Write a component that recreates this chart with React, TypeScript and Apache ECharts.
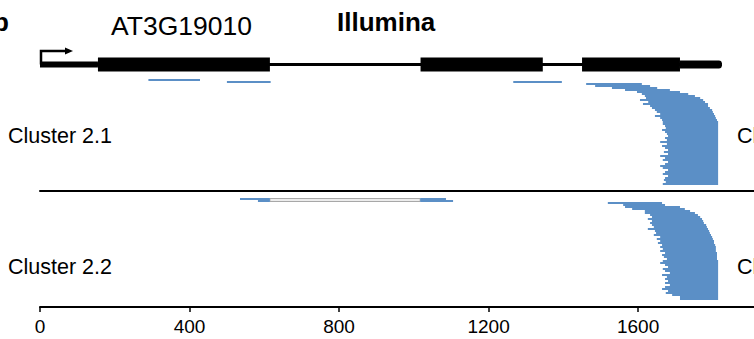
import React, { useEffect, useRef } from "react";
import * as echarts from "echarts";

// ---------- data ----------
const xTickInterval = 400;
const xMax = 1910;

const geneSpan = [0, 1824];
const utr5 = [0, 155];
const exons = [
  [155, 615],
  [1018, 1345],
  [1450, 1712],
];
const utr3 = [1712, 1824];

// Cluster 2.1 : isolated short reads [start, end, row]
const c21Short = [
  [290, 428, 0],
  [500, 617, 1],
  [1266, 1396, 1],
];
// Cluster 2.1 : stacked reads (rows 2..52)
const c21Starts = [
  1461, 1485, 1530, 1565, 1597, 1610, 1618, 1621, 1605, 1627, 1613, 1632, 1637,
  1645, 1650, 1659, 1645, 1659, 1664, 1666, 1666, 1672, 1674, 1664, 1672, 1677,
  1680, 1672, 1677, 1659, 1677, 1664, 1672, 1680, 1669, 1680, 1659, 1672, 1666,
  1680, 1672, 1659, 1666, 1680, 1672, 1666, 1680, 1672, 1669, 1674, 1666,
];
const c21Ends = [
  1610, 1632, 1651, 1685, 1712, 1734, 1752, 1766, 1774, 1779, 1787, 1787, 1792,
  1798, 1800, 1803, 1806, 1808, 1811, 1814, 1814, 1814, 1814, 1814, 1814, 1814,
  1814, 1814, 1814, 1814, 1814, 1814, 1814, 1814, 1814, 1814, 1814, 1814, 1814,
  1814, 1814, 1814, 1814, 1814, 1814, 1814, 1814, 1814, 1814, 1814, 1814,
];

// Cluster 2.2 : spliced reads blocks [start, end, row] and junction [start, end, row]
const c22Spliced = [
  [535, 615, 1],
  [1017, 1086, 1],
  [583, 615, 2],
  [1017, 1105, 2],
];
const c22Junctions = [[615, 1017, 1]];
// Cluster 2.2 : stacked reads (rows 3..51)
const c22Starts = [
  1519, 1560, 1565, 1584, 1618, 1618, 1632, 1637, 1626, 1637, 1632, 1637, 1642,
  1626, 1645, 1648, 1642, 1659, 1650, 1659, 1653, 1664, 1659, 1666, 1659, 1672,
  1664, 1669, 1677, 1666, 1659, 1672, 1680, 1666, 1672, 1685, 1664, 1677, 1672,
  1680, 1672, 1685, 1672, 1664, 1680, 1674, 1691, 1712, 1712,
];
const c22Ends = [
  1664, 1672, 1712, 1725, 1739, 1752, 1760, 1766, 1771, 1774, 1776, 1782, 1784,
  1787, 1790, 1792, 1795, 1798, 1800, 1803, 1803, 1806, 1808, 1808, 1808, 1811,
  1811, 1811, 1811, 1814, 1814, 1814, 1814, 1814, 1814, 1814, 1814, 1814, 1814,
  1814, 1814, 1814, 1814, 1814, 1814, 1814, 1814, 1814, 1814,
];

const labels = {
  panel: "b",
  gene: "AT3G19010",
  platform: "Illumina",
  cluster1: "Cluster 2.1",
  cluster2: "Cluster 2.2",
};

// ---------- styles ----------
const BLUE = "#5b8fc6";
const FONT = "'Liberation Sans', Arial, sans-serif";

const c21Data = [
  ...c21Short,
  ...c21Starts.map((s, i) => [s, c21Ends[i], i + 2]),
];
const c22Data = [
  ...c22Spliced,
  ...c22Starts.map((s, i) => [s, c22Ends[i], i + 3]),
];

const geneData = [
  [geneSpan[0], geneSpan[1], 0],
  [utr5[0], utr5[1], 1],
  ...exons.map((e) => [e[0], e[1], 2]),
  [utr3[0], utr3[1], 3],
];

const readItem = (_p: any, api: any) => {
  const a = api.coord([api.value(0), api.value(2)]);
  const b = api.coord([api.value(1), api.value(2) + 1]);
  return {
    type: "rect",
    shape: { x: a[0], y: a[1], width: b[0] - a[0], height: b[1] - a[1] },
    style: { fill: BLUE },
  };
};

const junctionItem = (_p: any, api: any) => {
  const a = api.coord([api.value(0), api.value(2) + 0.25]);
  const b = api.coord([api.value(1), api.value(2) + 1.75]);
  return {
    type: "rect",
    shape: { x: a[0], y: a[1], width: b[0] - a[0], height: b[1] - a[1] },
    style: { fill: "#ececec", stroke: "#a8a8a8", lineWidth: 1 },
  };
};

const heights = [3, 6, 14, 8];
const geneItem = (_p: any, api: any) => {
  const kind = api.value(2);
  const a = api.coord([api.value(0), 0]);
  const b = api.coord([api.value(1), 0]);
  const h = heights[kind];
  return {
    type: "rect",
    shape: {
      x: a[0],
      y: a[1] - h / 2,
      width: b[0] - a[0],
      height: h,
      r: kind === 3 ? [0, 3, 3, 0] : 0,
    },
    style: { fill: "#000" },
  };
};

const arrowItem = (_p: any, api: any) => {
  const c = api.coord([api.value(0), 0]);
  const x0 = c[0] + 1;
  const yTop = 51;
  return {
    type: "group",
    children: [
      {
        type: "polyline",
        shape: { points: [[x0, c[1]], [x0, yTop], [x0 + 25, yTop]] },
        style: { stroke: "#000", lineWidth: 2.5, fill: null },
      },
      {
        type: "polygon",
        shape: { points: [[x0 + 24, yTop - 3.5], [x0 + 32, yTop], [x0 + 24, yTop + 3.5]] },
        style: { fill: "#000" },
      },
    ],
  };
};

const baseX = {
  type: "value",
  min: 0,
  max: xMax,
  interval: xTickInterval,
  position: "bottom",
  splitLine: { show: false },
};

const option: any = {
  animation: false,
  backgroundColor: "#fff",
  grid: [
    { left: 40, right: 0, top: 39.5, height: 50 },
    { left: 40, right: 0, top: 79, height: 106 },
    { left: 40, right: 0, top: 196, height: 111 },
  ],
  xAxis: [
    { ...baseX, gridIndex: 0, show: false },
    {
      ...baseX,
      gridIndex: 1,
      offset: 6,
      axisLine: { show: true, onZero: false, lineStyle: { color: "#000", width: 2 } },
      axisTick: { show: false },
      axisLabel: { show: false },
    },
    {
      ...baseX,
      gridIndex: 2,
      axisLine: { show: true, onZero: false, lineStyle: { color: "#000", width: 2 } },
      axisTick: { show: true, length: 5, lineStyle: { color: "#000", width: 1.5 } },
      axisLabel: {
        show: true,
        color: "#000",
        fontSize: 19,
        fontFamily: FONT,
        margin: 10,
        showMaxLabel: false,
        formatter: (v: number) => String(v),
      },
    },
  ],
  yAxis: [
    { type: "value", gridIndex: 0, min: -1, max: 1, show: false },
    { type: "value", gridIndex: 1, min: 0, max: 53, inverse: true, show: false },
    { type: "value", gridIndex: 2, min: 0, max: 55.5, inverse: true, show: false },
  ],
  series: [
    {
      type: "custom",
      xAxisIndex: 0,
      yAxisIndex: 0,
      renderItem: geneItem,
      data: geneData,
      encode: { x: [0, 1], y: 2 },
      clip: false,
      silent: true,
    },
    {
      type: "custom",
      xAxisIndex: 0,
      yAxisIndex: 0,
      renderItem: arrowItem,
      data: [[geneSpan[0]]],
      encode: { x: 0 },
      clip: false,
      silent: true,
    },
    {
      type: "custom",
      xAxisIndex: 1,
      yAxisIndex: 1,
      renderItem: readItem,
      data: c21Data,
      encode: { x: [0, 1], y: 2 },
      clip: false,
      silent: true,
    },
    {
      type: "custom",
      xAxisIndex: 2,
      yAxisIndex: 2,
      renderItem: junctionItem,
      data: c22Junctions,
      encode: { x: [0, 1], y: 2 },
      clip: false,
      silent: true,
    },
    {
      type: "custom",
      xAxisIndex: 2,
      yAxisIndex: 2,
      renderItem: readItem,
      data: c22Data,
      encode: { x: [0, 1], y: 2 },
      clip: false,
      silent: true,
    },
  ],
  graphic: [
    {
      type: "text",
      left: -7,
      top: 9,
      style: { text: labels.panel, font: `bold 26px ${FONT}`, fill: "#000" },
    },
    {
      type: "text",
      left: 111,
      top: 12,
      style: { text: labels.gene, font: `26.5px ${FONT}`, fill: "#000" },
    },
    {
      type: "text",
      left: 337,
      top: 9,
      style: { text: labels.platform, font: `bold 26px ${FONT}`, fill: "#000" },
    },
    {
      type: "text",
      left: 8,
      top: 125,
      style: { text: labels.cluster1, font: `21.5px ${FONT}`, fill: "#000" },
    },
    {
      type: "text",
      left: 8,
      top: 256,
      style: { text: labels.cluster2, font: `21.5px ${FONT}`, fill: "#000" },
    },
    {
      type: "text",
      left: 737,
      top: 125,
      style: { text: labels.cluster1, font: `21.5px ${FONT}`, fill: "#000" },
    },
    {
      type: "text",
      left: 737,
      top: 256,
      style: { text: labels.cluster2, font: `21.5px ${FONT}`, fill: "#000" },
    },
  ],
};

export default function App() {
  const ref = useRef<HTMLDivElement>(null);
  useEffect(() => {
    document.body.style.margin = "0";
    const chart = echarts.init(ref.current!, null, { renderer: "svg" });
    chart.setOption(option);
    return () => chart.dispose();
  }, []);
  return <div ref={ref} style={{ width: 754, height: 339 }} />;
}
